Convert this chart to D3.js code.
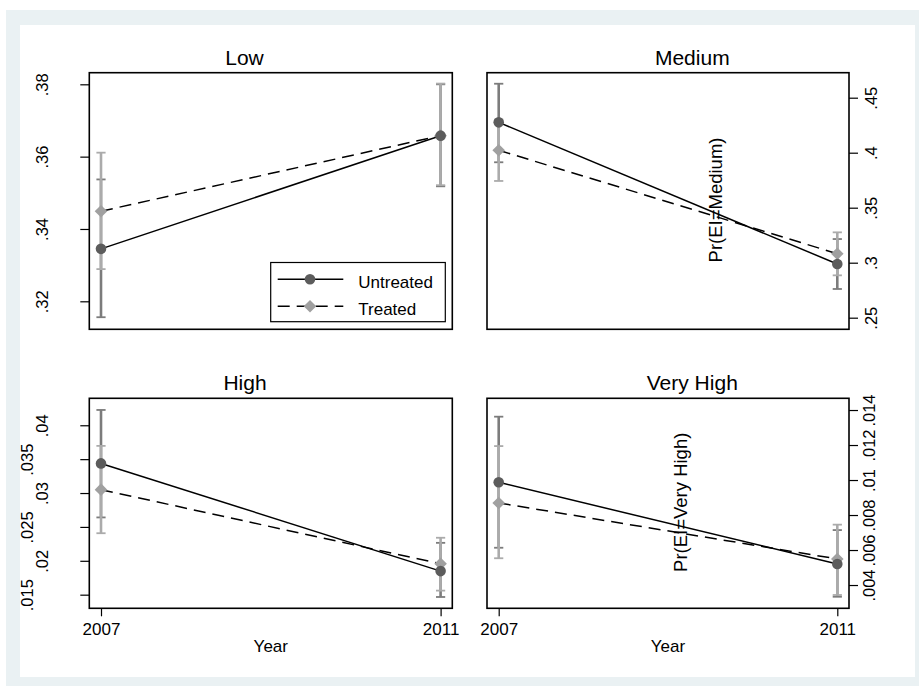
<!DOCTYPE html>
<html>
<head>
<meta charset="utf-8">
<script src="https://cdn.jsdelivr.net/npm/d3@7"></script>
<style>
  html, body { margin: 0; padding: 0; background: #fff; }
  svg { display: block; font-family: "Liberation Sans", Arial, Helvetica, sans-serif; }
</style>
</head>
<body>
<svg id="chart" width="919" height="686"></svg>
<script>
// ---------------- DATA ----------------
const years = [2007, 2011];
const outcomes = ["Low", "Medium", "High", "Very High"];
const seriesNames = ["Untreated", "Treated"];

// rows = outcomes (Low, Medium, High, Very High); columns = years (2007, 2011)
const untreatedEst = [[0.3345, 0.3658], [0.4276, 0.2988], [0.03437, 0.01848], [0.00987, 0.0052]];
const untreatedLo  = [[0.3156, 0.3518], [0.3913, 0.2761], [0.0264, 0.01466], [0.00613, 0.00333]];
const untreatedHi  = [[0.3537, 0.3800], [0.4627, 0.3215], [0.04226, 0.02265], [0.01362, 0.00714]];

const treatedEst = [[0.3449, 0.3658], [0.4022, 0.3082], [0.0305, 0.01956], [0.00869, 0.00549]];
const treatedLo  = [[0.3289, 0.3521], [0.3743, 0.2885], [0.02407, 0.0156], [0.00553, 0.00343]];
const treatedHi  = [[0.3611, 0.3802], [0.4301, 0.3276], [0.03696, 0.0234], [0.01194, 0.00745]];

const yTicks = [
  [0.32, 0.34, 0.36, 0.38],
  [0.25, 0.3, 0.35, 0.4, 0.45],
  [0.015, 0.02, 0.025, 0.03, 0.035, 0.04],
  [0.004, 0.006, 0.008, 0.01, 0.012, 0.014]
];
const yTickLabels = [
  [".32", ".34", ".36", ".38"],
  [".25", ".3", ".35", ".4", ".45"],
  [".015", ".02", ".025", ".03", ".035", ".04"],
  [".004", ".006", ".008", ".01", ".012", ".014"]
];
const yDomains = [[0.31226, 0.38321], [0.23945, 0.47273], [0.01299, 0.04398], [0.00267, 0.01467]];
const yTitles = ["", "Pr(EI=Medium)", "", "Pr(EI=Very High)"];
const xTitle = "Year";

// ---------------- LAYOUT ----------------
const layout = [
  {x0: 89.3, x1: 452.3, y0: 72.7, y1: 329.3, side: "left",  labelX: 41.7, altX: 41.7, titleX: 244.5, titleY: 65, xaxis: false},
  {x0: 487,  x1: 849,   y0: 72.7, y1: 329.3, side: "right", labelX: 870.7, altX: 870.7, titleX: 692.3, titleY: 65, xaxis: false, ytX: 715, ytY: 200},
  {x0: 89.3, x1: 452.3, y0: 398.3, y1: 608.3, side: "left", labelX: 41.7, altX: 26.7, titleX: 245, titleY: 390, xaxis: true},
  {x0: 487,  x1: 849,   y0: 398.3, y1: 608.3, side: "right", labelX: 869, altX: 869, titleX: 692.3, titleY: 390, xaxis: true, ytX: 680.7, ytY: 502.3}
];
const xPad = 11.7;
const colUntreatedMarker = "#5c5c5c";
const colUntreatedCI = "#7c7c7c";
const colTreatedMarker = "#a0a0a0";
const colTreatedCI = "#ababab";
const dash = "12,7";
const tickFont = 16.5;

const svg = d3.select("#chart");

// background
svg.append("rect").attr("x", 0).attr("y", 0).attr("width", 919).attr("height", 686).attr("fill", "#ffffff");
svg.append("rect").attr("x", 6).attr("y", 10).attr("width", 913).attr("height", 676).attr("fill", "#eaf1f3");
svg.append("rect").attr("x", 20).attr("y", 25).attr("width", 895).attr("height", 652).attr("fill", "#ffffff");

function diamondPath(cx, cy, r) {
  return `M${cx},${cy - r}L${cx + r},${cy}L${cx},${cy + r}L${cx - r},${cy}Z`;
}

outcomes.forEach((name, k) => {
  const L = layout[k];
  const g = svg.append("g");
  const x = d3.scaleLinear().domain(d3.extent(years)).range([L.x0 + xPad, L.x1 - xPad]);
  const y = d3.scaleLinear().domain(yDomains[k]).range([L.y1, L.y0]);

  // title
  g.append("text").attr("x", L.titleX).attr("y", L.titleY).attr("text-anchor", "middle")
    .attr("font-size", 21).attr("fill", "#000").text(name);

  // y axis
  const yAxis = (L.side === "left" ? d3.axisLeft(y) : d3.axisRight(y))
    .tickValues(yTicks[k]).tickFormat((d, i) => yTickLabels[k][i]).tickSize(9).tickSizeOuter(0);
  const ya = g.append("g")
    .attr("transform", `translate(${L.side === "left" ? L.x0 : L.x1},0)`)
    .call(yAxis);
  ya.select(".domain").remove();
  ya.selectAll(".tick line").attr("stroke", "#000").attr("stroke-width", 1.2);
  ya.selectAll(".tick text")
    .attr("x", null).attr("y", null)
    .attr("text-anchor", "middle")
    .attr("font-size", tickFont)
    .attr("font-family", null)
    .attr("fill", "#000")
    .attr("dy", "0.36em")
    .attr("transform", (d, i) => {
      const cx = (i % 2 === 0 ? L.altX : L.labelX) - (L.side === "left" ? L.x0 : L.x1);
      return `translate(${cx},0) rotate(-90)`;
    });

  // x axis
  if (L.xaxis) {
    const xAxis = d3.axisBottom(x).tickValues(years).tickFormat(d3.format("d")).tickSize(8).tickSizeOuter(0);
    const xa = g.append("g").attr("transform", `translate(0,${L.y1})`).call(xAxis);
    xa.select(".domain").remove();
    xa.selectAll(".tick line").attr("stroke", "#000").attr("stroke-width", 1.2);
    xa.selectAll(".tick text").attr("y", 635 - L.y1).attr("dy", 0)
      .attr("font-size", tickFont + 0.5).attr("font-family", null).attr("fill", "#000");
    g.append("text").attr("x", (L.x0 + L.x1) / 2).attr("y", 652).attr("text-anchor", "middle")
      .attr("font-size", 17).attr("fill", "#000").text(xTitle);
  }

  // y title (right panels)
  if (yTitles[k]) {
    g.append("text").attr("transform", `translate(${L.ytX},${L.ytY}) rotate(-90)`)
      .attr("text-anchor", "middle").attr("dy", "0.36em")
      .attr("font-size", 18.5).attr("fill", "#000").text(yTitles[k]);
  }

  // CIs
  const series = [
    {est: untreatedEst[k], lo: untreatedLo[k], hi: untreatedHi[k], ci: colUntreatedCI, mk: colUntreatedMarker, dash: null, shape: "circle"},
    {est: treatedEst[k], lo: treatedLo[k], hi: treatedHi[k], ci: colTreatedCI, mk: colTreatedMarker, dash: dash, shape: "diamond"}
  ];
  series.forEach(s => {
    years.forEach((yr, j) => {
      const px = x(yr);
      g.append("line").attr("x1", px).attr("x2", px).attr("y1", y(s.lo[j])).attr("y2", y(s.hi[j]))
        .attr("stroke", s.ci).attr("stroke-width", 2.6);
      [s.lo[j], s.hi[j]].forEach(v => {
        g.append("line").attr("x1", px - 4.6).attr("x2", px + 4.6).attr("y1", y(v)).attr("y2", y(v))
          .attr("stroke", s.ci).attr("stroke-width", 1.8);
      });
    });
  });
  // lines
  const line = d3.line().x((d, j) => x(years[j])).y(d => y(d));
  series.forEach(s => {
    g.append("path").attr("d", line(s.est)).attr("fill", "none").attr("stroke", "#000")
      .attr("stroke-width", 1.5).attr("stroke-dasharray", s.dash);
  });
  // markers: treated first, untreated on top
  [series[1], series[0]].forEach(s => {
    years.forEach((yr, j) => {
      if (s.shape === "circle") {
        g.append("circle").attr("cx", x(yr)).attr("cy", y(s.est[j])).attr("r", 5.3).attr("fill", s.mk);
      } else {
        g.append("path").attr("d", diamondPath(x(yr), y(s.est[j]), 6.3)).attr("fill", s.mk);
      }
    });
  });

  // frame
  g.append("rect").attr("x", L.x0).attr("y", L.y0).attr("width", L.x1 - L.x0).attr("height", L.y1 - L.y0)
    .attr("fill", "none").attr("stroke", "#000").attr("stroke-width", 1.6);

  // legend in first panel
  if (k === 0) {
    const lg = g.append("g");
    lg.append("rect").attr("x", 270.7).attr("y", 262.5).attr("width", 174.6).attr("height", 59.2)
      .attr("fill", "#fff").attr("stroke", "#000").attr("stroke-width", 1.2);
    const rows = [279.3, 306.2];
    seriesNames.forEach((nm, i) => {
      const ry = rows[i];
      lg.append("line").attr("x1", 277.7).attr("x2", 343.3).attr("y1", ry).attr("y2", ry)
        .attr("stroke", "#000").attr("stroke-width", 1.5).attr("stroke-dasharray", series[i].dash);
      if (i === 0) lg.append("circle").attr("cx", 310).attr("cy", ry).attr("r", 5.3).attr("fill", colUntreatedMarker);
      else lg.append("path").attr("d", diamondPath(310, ry, 6.3)).attr("fill", colTreatedMarker);
      lg.append("text").attr("x", 358.3).attr("y", ry + 8.6).attr("font-size", 17).attr("fill", "#000").text(nm);
    });
  }
});
</script>
</body>
</html>
